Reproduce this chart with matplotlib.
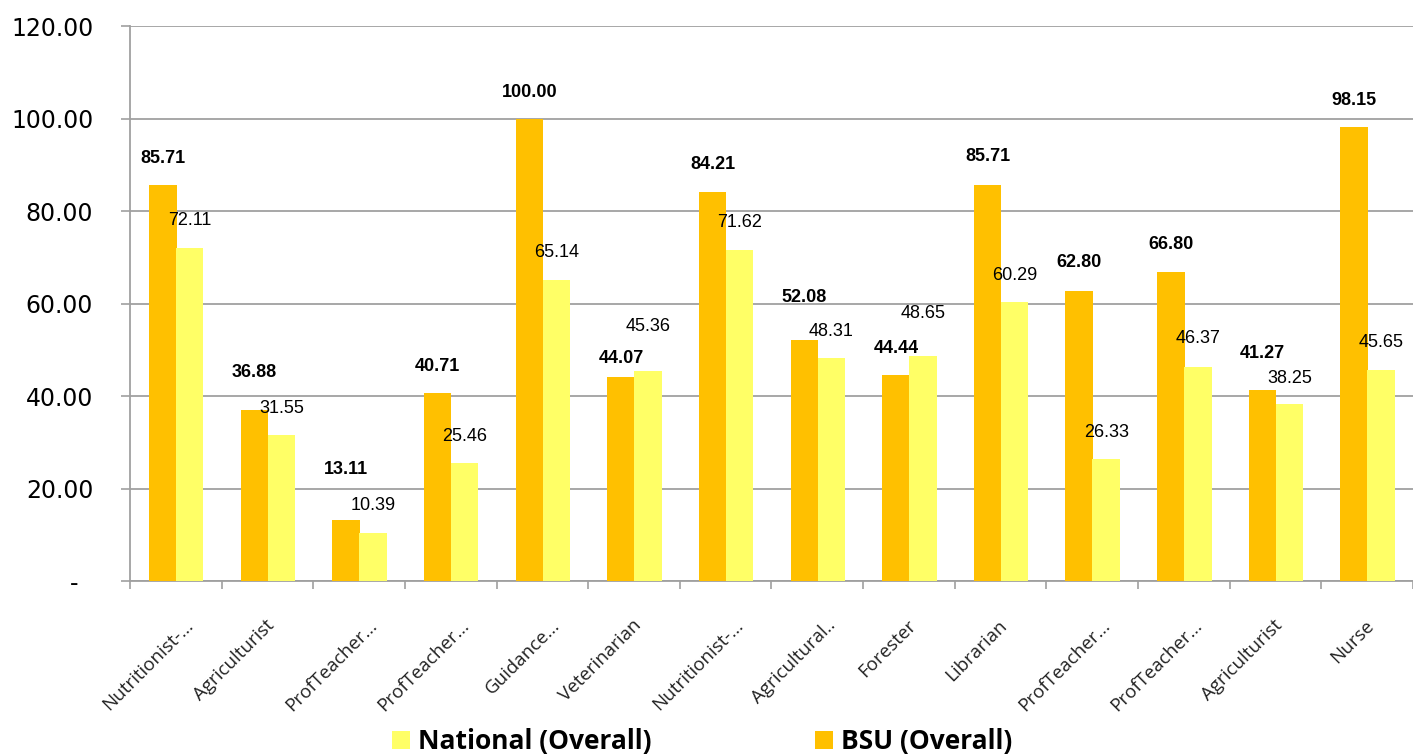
import matplotlib
matplotlib.use("Agg")
import matplotlib.pyplot as plt
import matplotlib.transforms as mtransforms
import numpy as np
from matplotlib.patches import Patch

categories = ["Nutritionist-...", "Agriculturist", "ProfTeacher...", "ProfTeacher...",
              "Guidance...", "Veterinarian", "Nutritionist-...", "Agricultural..",
              "Forester", "Librarian", "ProfTeacher...", "ProfTeacher...",
              "Agriculturist", "Nurse"]
bsu = [85.71, 36.88, 13.11, 40.71, 100.00, 44.07, 84.21, 52.08, 44.44, 85.71,
       62.80, 66.80, 41.27, 98.15]
national = [72.11, 31.55, 10.39, 25.46, 65.14, 45.36, 71.62, 48.31, 48.65, 60.29,
            26.33, 46.37, 38.25, 45.65]
yticks = [0, 20, 40, 60, 80, 100, 120]
ytick_labels = ["-  ", "20.00", "40.00", "60.00", "80.00", "100.00", "120.00"]

# label placement (pixels above bar top), as positioned in the original chart
bsu_label_dy = [26, 38, 51, 26, 26, 19, 27, 43, 27, 28, 28, 28, 37, 27]
nat_label_dy = [27, 27, 27, 27, 27, 45, 27, 26, 43, 27, 27, 28, 26, 27]

BSU_C = "#FFC000"
NAT_C = "#FFFF66"
GRID_C = "#A0A0A0"

fig = plt.figure(figsize=(14.13, 7.54), dpi=100)
ax = fig.add_axes([0.092, 0.2294, 0.908, 0.7361])

x = np.arange(len(categories))
w = 0.3
ax.bar(x - 0.142, bsu, width=w, color=BSU_C, zorder=3)
ax.bar(x + 0.152, national, width=w, color=NAT_C, zorder=3)

for xi, v, dy in zip(x, bsu, bsu_label_dy):
    ax.annotate(f"{v:.2f}", (xi - 0.142, v), xytext=(0, dy), textcoords="offset pixels",
                ha="center", va="center", fontsize=13, fontweight="bold",
                family="Liberation Sans", color="black", zorder=5)
for xi, v, dy in zip(x, national, nat_label_dy):
    ax.annotate(f"{v:.2f}", (xi + 0.152, v), xytext=(0, dy), textcoords="offset pixels",
                ha="center", va="center", fontsize=13,
                family="Liberation Sans", color="black", zorder=5)

ax.set_xlim(-0.5, len(categories) - 0.5)
ax.set_ylim(0, 120)
ax.set_yticks(yticks)
ax.set_yticklabels(ytick_labels, fontsize=17, family="DejaVu Sans")
ax.yaxis.grid(True, color=GRID_C, linewidth=1.3, zorder=0)
ax.tick_params(axis="y", length=6.5, color=GRID_C, width=1.2, pad=20)

ax.set_xticks(x)
ax.set_xticklabels(categories, rotation=45, ha="right", va="center",
                   rotation_mode="anchor", fontsize=13.5, family="Open Sans",
                   color="#222222")
ax.tick_params(axis="x", length=0, pad=30)
for lbl in ax.get_xticklabels():
    shift = 15 if lbl.get_text().endswith("..") else 4
    lbl.set_transform(lbl.get_transform() +
                      mtransforms.ScaledTranslation(shift / 100, 0, fig.dpi_scale_trans))
ax.set_xticks(np.arange(-0.5, len(categories), 1.0), minor=True)
ax.tick_params(axis="x", which="minor", length=6, color=GRID_C, width=1.2)

for s in ["top", "right"]:
    ax.spines[s].set_visible(False)
ax.spines["left"].set_color(GRID_C)
ax.spines["bottom"].set_color(GRID_C)
ax.spines["left"].set_linewidth(1.3)
ax.spines["bottom"].set_linewidth(1.3)

handles = [Patch(facecolor=NAT_C, label="National (Overall)"),
           Patch(facecolor=BSU_C, label="BSU (Overall)")]
fig.legend(handles=handles, loc="center", bbox_to_anchor=(0.497, 0.016), ncol=2,
           frameon=False, prop={"family": "Open Sans", "weight": "bold", "size": 19},
           columnspacing=6.2, handlelength=0.68, handleheight=0.68, handletextpad=0.3,
           borderpad=0, borderaxespad=0)

fig.savefig("out.png", dpi=100)
